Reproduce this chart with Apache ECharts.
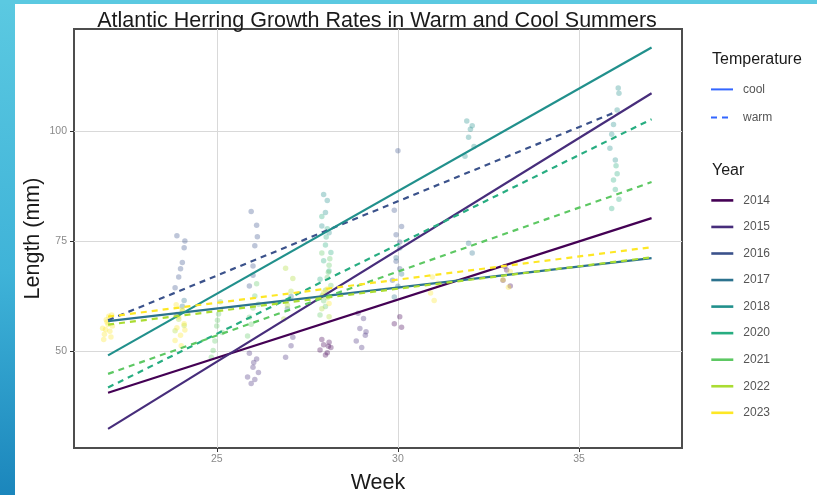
<!DOCTYPE html>
<html>
<head>
<meta charset="utf-8">
<script src="https://cdn.jsdelivr.net/npm/echarts@6/dist/echarts.min.js"></script>
<style>
  html, body { margin: 0; padding: 0; background: #ffffff; }
  #chart { width: 817px; height: 495px; }
</style>
</head>
<body>
<div id="chart"></div>
<script>
// Survey years and their viridis colours
const years = ['2014', '2015', '2016', '2017', '2018', '2020', '2021', '2022', '2023'];
const yearColors = ['#440154', '#472D7B', '#3B528B', '#2C728E', '#21908C', '#27AD81', '#5DC863', '#AADC32', '#FDE725'];
const yearTemp = ['cool', 'cool', 'warm', 'cool', 'cool', 'warm', 'warm', 'warm', 'warm'];

// Fitted growth lines: length (mm) at the first and last week of each fit
const fitStartWeek = [22, 22, 22, 22, 22, 22, 22, 22, 22];
const fitEndWeek = [37, 37, 36, 37, 37, 37, 37, 37, 37];
const fitStart = [40.5, 32.3, 57.0, 56.8, 49.0, 41.7, 44.8, 56.0, 57.8];
const fitEnd = [80.2, 108.6, 104.3, 71.1, 119.0, 102.7, 88.4, 71.3, 73.6];

// Individual fish: [week (jittered), length mm]
const pts2014 = [[27.85, 50.2], [27.95, 51.4], [28.05, 49.6], [28.1, 52.0], [28.15, 50.8], [27.9, 52.6], [28.0, 49.1],
  [28.08, 51.1], [29.9, 56.2], [30.05, 57.8], [30.1, 55.4], [32.9, 66.1], [33.0, 68.4], [33.1, 64.8], [32.95, 69.2]];
const pts2015 = [[25.85, 44.1], [25.95, 42.6], [26.0, 46.3], [26.05, 43.5], [26.1, 48.2], [25.9, 49.5], [26.15, 45.1],
  [26.02, 47.4], [26.9, 48.6], [27.05, 51.2], [27.1, 53.1],
  [28.85, 52.3], [28.95, 55.1], [29.05, 57.4], [29.1, 53.6], [28.9, 58.6], [29.0, 50.8], [29.12, 54.4]];
const pts2016 = [[23.85, 64.4], [23.95, 66.8], [24.05, 70.1], [24.1, 73.5], [23.9, 76.2], [24.0, 68.7], [24.12, 75.0],
  [25.9, 64.8], [26.0, 69.3], [26.05, 73.9], [26.1, 78.6], [25.95, 81.7], [26.0, 67.2], [26.12, 76.0],
  [29.85, 66.1], [29.95, 70.4], [30.05, 74.8], [30.1, 78.3], [29.9, 82.0], [30.0, 95.5], [30.05, 68.7], [29.95, 76.4]];
const pts2017 = [[23.9, 58.3], [24.05, 60.2], [24.1, 61.5], [26.95, 59.6], [27.05, 62.4],
  [29.9, 62.3], [30.0, 64.7], [30.1, 67.5], [29.95, 71.2], [30.05, 73.4], [31.95, 74.5], [32.05, 72.3]];
const pts2018 = [[27.9, 78.4], [28.0, 81.5], [28.05, 84.2], [28.1, 76.9], [27.95, 85.6],
  [31.85, 94.3], [31.95, 98.6], [32.05, 101.2], [32.1, 96.5], [32.0, 100.4], [31.9, 102.3],
  [35.85, 96.1], [35.95, 101.5], [36.05, 104.8], [36.1, 108.6], [35.9, 99.3], [36.0, 93.4], [36.08, 109.8]];
const pts2020 = [[27.85, 66.3], [27.95, 70.5], [28.0, 74.1], [28.05, 77.8], [28.1, 68.2], [27.9, 80.6], [28.15, 72.4],
  [28.02, 75.9], [35.9, 82.4], [36.0, 86.7], [36.05, 90.3], [36.1, 84.5], [35.95, 88.9], [36.02, 92.1]];
const pts2021 = [[24.85, 48.6], [24.95, 52.3], [25.0, 55.7], [25.05, 58.4], [25.1, 61.2], [24.9, 50.1], [25.15, 54.2],
  [25.02, 57.0], [25.85, 53.4], [25.95, 56.1], [26.0, 59.8], [26.05, 62.5], [26.1, 65.3], [25.9, 57.7], [26.15, 60.6],
  [27.85, 58.2], [27.95, 61.4], [28.0, 63.8], [28.05, 66.7], [28.1, 69.5], [27.9, 72.3], [28.15, 64.9], [28.0, 60.1],
  [28.08, 67.9], [27.92, 62.7], [28.12, 71.0]];
const pts2022 = [[23.85, 54.6], [23.95, 57.2], [24.05, 59.1], [24.1, 55.8],
  [26.85, 57.3], [26.95, 60.4], [27.05, 63.6], [27.1, 66.5], [26.9, 68.8],
  [27.9, 59.6], [28.05, 62.1], [28.1, 57.8]];
const pts2023 = [[21.85, 55.2], [21.9, 53.8], [21.95, 57.1], [22.0, 56.0], [22.05, 54.5], [22.1, 58.2], [21.88, 52.6],
  [22.12, 55.7], [22.02, 57.9], [21.93, 54.9], [22.08, 53.2], [21.97, 56.6],
  [23.85, 52.4], [23.9, 55.3], [23.95, 57.8], [24.0, 53.6], [24.05, 59.4], [24.1, 56.2], [23.88, 60.5], [24.12, 54.8],
  [24.02, 51.2], [23.93, 58.1],
  [27.9, 62.4], [28.05, 64.1], [28.1, 60.8], [27.95, 63.3],
  [30.9, 63.2], [31.0, 61.5], [31.1, 65.4], [30.95, 66.8],
  [32.9, 66.2], [33.05, 64.5], [33.1, 68.1]];
const yearPoints = [pts2014, pts2015, pts2016, pts2017, pts2018, pts2020, pts2021, pts2022, pts2023];

// Axis ticks
const weekTicks = [25, 30, 35];
const lengthTicks = [50, 75, 100];

const tempStyles = { cool: 'solid', warm: [6, 5] };
const fontFamily = '"Liberation Sans", Arial, sans-serif';

const series = [];
// Temperature key (line style only)
['cool', 'warm'].forEach(function (t) {
  series.push({
    name: t, type: 'line', data: [], symbol: 'none',
    lineStyle: { color: '#3366FF', width: 2, type: tempStyles[t] },
    itemStyle: { color: '#3366FF' }
  });
});
// Growth lines per year
years.forEach(function (y, i) {
  series.push({
    name: y, type: 'line', symbol: 'none', z: 4, silent: true,
    data: [[fitStartWeek[i], fitStart[i]], [fitEndWeek[i], fitEnd[i]]],
    lineStyle: { color: yearColors[i], width: 2.2, type: tempStyles[yearTemp[i]] },
    itemStyle: { color: yearColors[i] }
  });
});
// Jittered fish lengths per year
years.forEach(function (y, i) {
  series.push({
    name: y, type: 'scatter', z: 2, silent: true,
    data: yearPoints[i], symbolSize: 5.5,
    itemStyle: { color: yearColors[i], opacity: 0.33 }
  });
});

const legendBase = {
  orient: 'vertical', left: 710, padding: 0,
  itemWidth: 22, itemHeight: 14, selectedMode: false,
  itemStyle: { opacity: 0 },
  textStyle: { fontSize: 12, color: '#555555', fontFamily: fontFamily, padding: [0, 0, 0, 5] }
};

const chart = echarts.init(document.getElementById('chart'), null, { renderer: 'canvas' });
chart.setOption({
  animation: false,
  backgroundColor: '#ffffff',
  textStyle: { fontFamily: fontFamily },
  graphic: [
    {
      type: 'rect', z: -10, silent: true,
      shape: { x: 0, y: 0, width: 15, height: 495 },
      style: {
        fill: new echarts.graphic.LinearGradient(0, 0, 0, 1, [
          { offset: 0, color: '#5BC9E1' },
          { offset: 0.55, color: '#3FB3D8' },
          { offset: 1, color: '#1B86BC' }
        ])
      }
    },
    {
      type: 'rect', z: -10, silent: true,
      shape: { x: 0, y: 0, width: 817, height: 4 },
      style: { fill: '#5BC9E1' }
    }
  ],
  title: [
    {
      text: 'Atlantic Herring Growth Rates in Warm and Cool Summers',
      left: 372, top: 5, textAlign: 'center',
      textStyle: { fontSize: 21.5, fontWeight: 'normal', color: '#1a1a1a', fontFamily: fontFamily }
    },
    {
      text: 'Temperature', left: 707, top: 47,
      textStyle: { fontSize: 16, fontWeight: 'normal', color: '#1a1a1a', fontFamily: fontFamily }
    },
    {
      text: 'Year', left: 707, top: 158,
      textStyle: { fontSize: 16, fontWeight: 'normal', color: '#1a1a1a', fontFamily: fontFamily }
    }
  ],
  legend: [
    Object.assign({}, legendBase, { data: ['cool', 'warm'], top: 83.4, itemGap: 16.2 }),
    Object.assign({}, legendBase, {
      data: years, top: 194.4, itemGap: 14.55,
      lineStyle: { type: 'solid', width: 2.6 }
    })
  ],
  grid: {
    left: 74, top: 29, width: 608, height: 419,
    outerBoundsMode: 'none', containLabel: false,
    show: true, borderColor: '#4d4d4d', borderWidth: 2, backgroundColor: 'transparent'
  },
  xAxis: {
    type: 'value', min: 21.06, max: 37.84,
    name: 'Week', nameLocation: 'middle', nameGap: 24,
    nameTextStyle: { fontSize: 21.5, color: '#1a1a1a', fontFamily: fontFamily },
    axisLine: { show: false },
    axisTick: { show: true, length: 4, customValues: weekTicks, lineStyle: { color: '#333333' } },
    axisLabel: { customValues: weekTicks, fontSize: 10.5, color: '#8a8a8a', margin: 6 },
    splitLine: { show: true, lineStyle: { color: '#d9d9d9', width: 1 } }
  },
  yAxis: {
    type: 'value', min: 27.95, max: 123.2,
    name: 'Length (mm)', nameLocation: 'middle', nameGap: 30, nameMoveOverlap: false,
    nameTextStyle: { fontSize: 21.5, color: '#1a1a1a', fontFamily: fontFamily },
    axisLine: { show: false },
    axisTick: { show: true, length: 4, customValues: lengthTicks, lineStyle: { color: '#333333' } },
    axisLabel: { customValues: lengthTicks, fontSize: 10.5, color: '#8a8a8a', margin: 7 },
    splitLine: { show: true, lineStyle: { color: '#d9d9d9', width: 1 } }
  },
  series: series
});
</script>
</body>
</html>
